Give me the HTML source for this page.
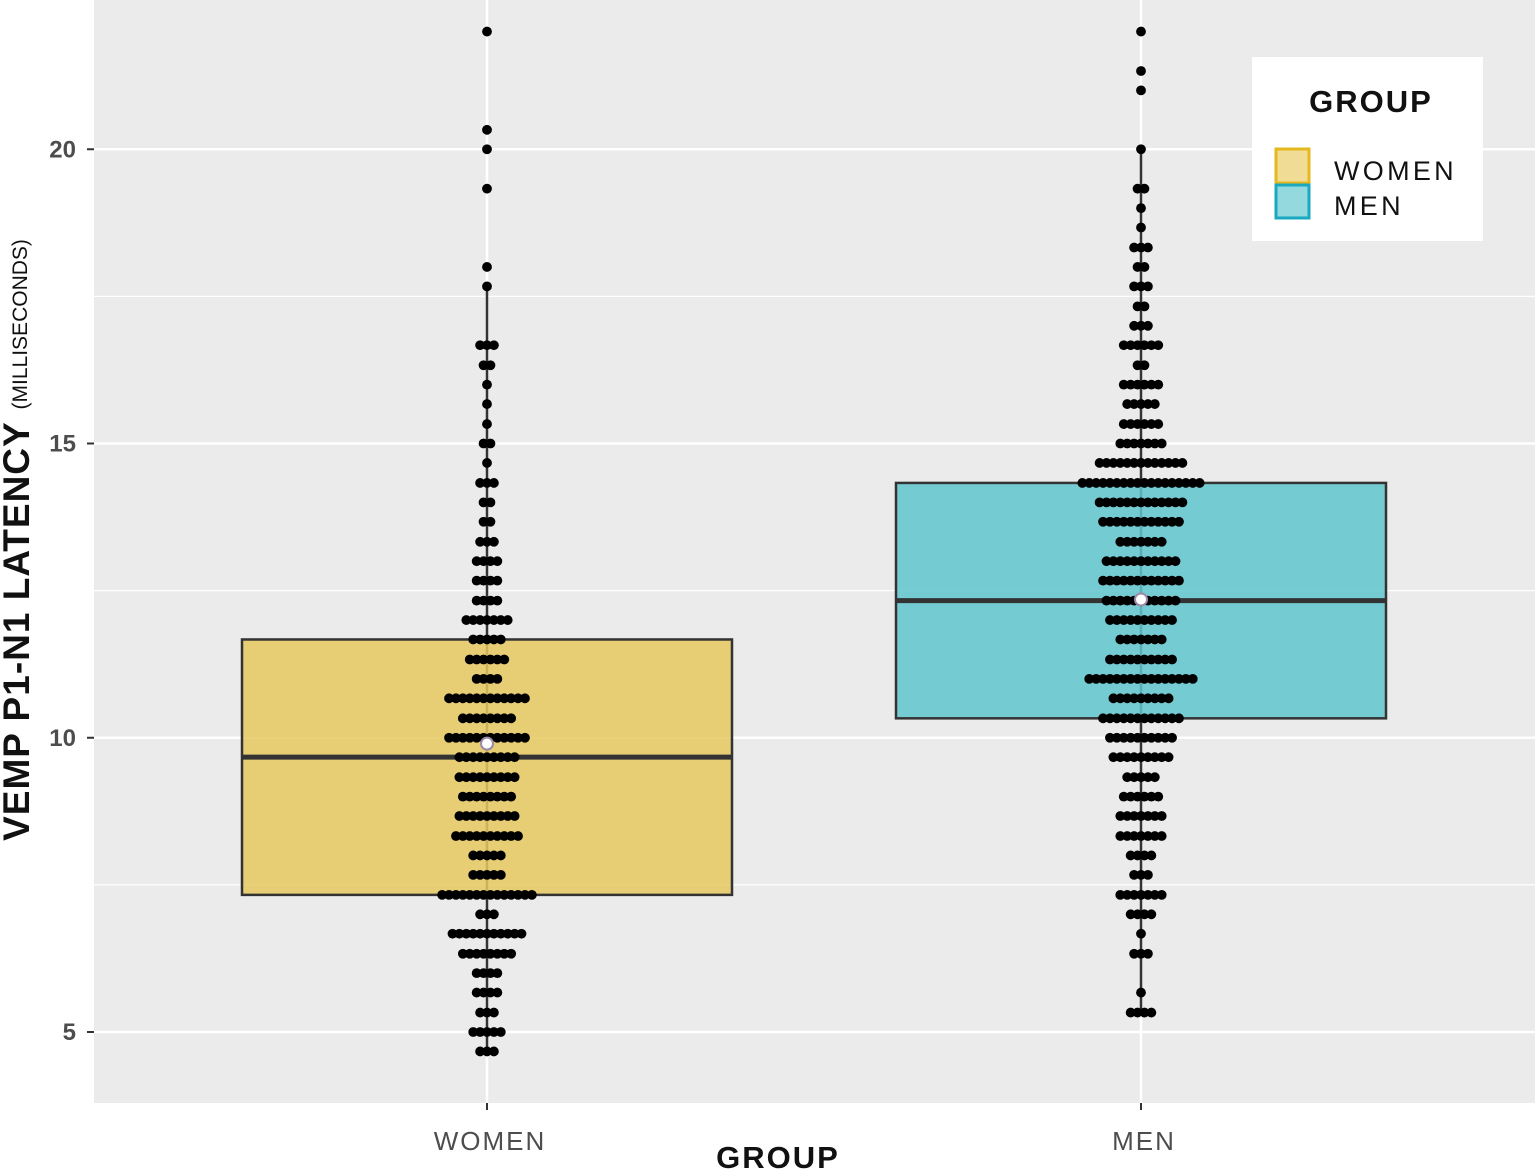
<!DOCTYPE html>
<html><head><meta charset="utf-8"><style>
body{margin:0;background:#fff}
svg{display:block;font-family:"Liberation Sans",sans-serif}
</style></head><body>
<svg id="c" width="1535" height="1171" viewBox="0 0 1535 1171">
<rect x="94" y="0" width="1441" height="1103" fill="#ebebeb"/>
<g id="grid"></g><g id="boxes"></g><g id="dots"></g><g id="axes"></g>
<g>
<rect x="1252" y="57" width="231" height="184" fill="#fff"/>
<text x="1371" y="112" text-anchor="middle" font-size="31" font-weight="bold" letter-spacing="2" fill="#111">GROUP</text>
<rect x="1276" y="149" width="33" height="34" fill="#f0dc94" stroke="#e6b820" stroke-width="3"/>
<rect x="1276" y="185" width="33" height="33" fill="#93d9de" stroke="#1aa9bf" stroke-width="3"/>
<text x="1334" y="180" font-size="27" letter-spacing="3.3" fill="#111">WOMEN</text>
<text x="1334" y="215" font-size="27" letter-spacing="3.3" fill="#111">MEN</text>
</g>
<text x="778" y="1168" text-anchor="middle" font-size="31" font-weight="bold" letter-spacing="2" fill="#111">GROUP</text>
<text transform="translate(29,540) rotate(-90)" text-anchor="middle" fill="#111"><tspan font-size="37" font-weight="bold" letter-spacing="1">VEMP P1-N1 LATENCY</tspan><tspan font-size="21" dx="6" dy="-2"> (MILLISECONDS)</tspan></text>
</svg>
<script>
const categories=["WOMEN","MEN"];
const yTicks=[5,10,15,20];
const boxQ1=[7.33,10.33];
const boxMedian=[9.67,12.33];
const boxQ3=[11.67,14.33];
const whiskerLow=[4.67,5.33];
const whiskerHigh=[17.67,20.0];
const means=[9.9,12.35];
const womenRows=[22,20.33,20,19.33,18,17.67,16.67,16.33,16,15.67,15.33,15,14.67,14.33,14,13.67,13.33,13,12.67,12.33,12,11.67,11.33,11,10.67,10.33,10,9.67,9.33,9,8.67,8.33,8,7.67,7.33,7,6.67,6.33,6,5.67,5.33,5,4.67];
const womenCounts=[1,1,1,1,1,1,3,2,1,1,1,2,1,3,2,2,3,4,4,4,7,5,6,4,12,8,12,9,9,8,9,10,5,5,14,3,11,8,4,4,3,5,3];
const menRows=[22,21.33,21,20,19.33,19,18.67,18.33,18,17.67,17.33,17,16.67,16.33,16,15.67,15.33,15,14.67,14.33,14,13.67,13.33,13,12.67,12.33,12,11.67,11.33,11,10.67,10.33,10,9.67,9.33,9,8.67,8.33,8,7.67,7.33,7,6.67,6.33,5.67,5.33];
const menCounts=[1,1,1,1,2,1,1,3,2,3,2,3,6,2,6,5,6,7,13,18,13,12,7,11,12,11,10,7,10,16,9,12,10,9,5,6,7,7,4,3,7,4,1,3,1,4];
const fills=["rgba(230,200,95,0.85)","rgba(95,198,206,0.85)"];
const NS="http://www.w3.org/2000/svg";
const yS=v=>1032-(v-5)*58.85;
const xS=i=>[487,1141][i];
function mk(p,t,a){const e=document.createElementNS(NS,t);for(const k in a)e.setAttribute(k,a[k]);document.getElementById(p).appendChild(e);return e;}
[7.5,12.5,17.5].forEach(v=>{const e=mk('grid','line',{x1:94,x2:1535,y1:yS(v),y2:yS(v),stroke:'#fff','stroke-width':1.2});

});
yTicks.forEach(v=>{const e=mk('grid','line',{x1:94,x2:1535,y1:yS(v),y2:yS(v),stroke:'#fff','stroke-width':2.5});


const t=mk('axes','line',{x1:87,x2:94,y1:yS(v),y2:yS(v),stroke:'#333','stroke-width':2});


const l=mk('axes','text',{x:76,y:yS(v)+8,'text-anchor':'end','font-size':24,'font-weight':'bold',fill:'#4d4d4d'});l.textContent=v;

});
categories.forEach((c,i)=>{const g=mk('grid','line',{x1:xS(i),x2:xS(i),y1:0,y2:1103,stroke:'#fff','stroke-width':2.5});


const t=mk('axes','line',{x1:xS(i),x2:xS(i),y1:1103,y2:1110,stroke:'#333','stroke-width':2});


const l=mk('axes','text',{x:xS(i)+3,y:1150,'text-anchor':'middle','font-size':26,'letter-spacing':2,fill:'#4d4d4d'});l.textContent=c;


const w=mk('boxes','line',{x1:xS(i),x2:xS(i),y1:yS(whiskerHigh[i]),y2:yS(whiskerLow[i]),stroke:'#333','stroke-width':2.5});


const b=mk('boxes','rect',{x:xS(i)-245,width:490,y:yS(boxQ3[i]),height:yS(boxQ1[i])-yS(boxQ3[i]),fill:fills[i],stroke:'#333','stroke-width':2.5});


const m=mk('boxes','line',{x1:xS(i)-245,x2:xS(i)+245,y1:yS(boxMedian[i]),y2:yS(boxMedian[i]),stroke:'#333','stroke-width':5});

});
[[womenRows,womenCounts],[menRows,menCounts]].forEach(([rows,cnts],i)=>{rows.forEach((v,r)=>{const n=cnts[r];for(let k=0;k<n;k++){
const d=mk('dots','circle',{cx:xS(i)+(k-(n-1)/2)*6.9,cy:yS(v),r:4.9,fill:'#000'});

}});
const mn=mk('dots','circle',{cx:xS(i),cy:yS(means[i]),r:6,fill:'#fff',stroke:'#9a8aa8','stroke-width':2});

});
</script>
</body></html>
